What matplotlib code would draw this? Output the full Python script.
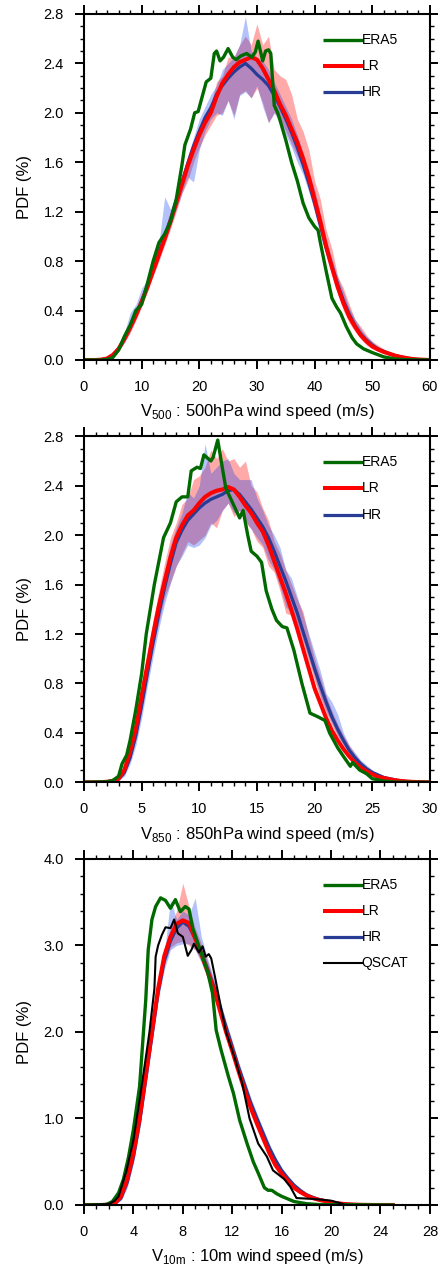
import numpy as np
import matplotlib
matplotlib.use('Agg')
import matplotlib.pyplot as plt
from matplotlib.ticker import MultipleLocator, FormatStrFormatter

plt.rcParams['font.family'] = ['Liberation Sans', 'DejaVu Sans']
plt.rcParams['mathtext.fontset'] = 'custom'
plt.rcParams['mathtext.rm'] = 'Liberation Sans'

# ---- panel 1: 500 hPa (1 m/s bins) ----
X1 = np.arange(0, 61, 1.0)
LR1 = [0, 0, 0, .003, .012, .04, .09, .17, .26, .36,
       .47, .59, .72, .85, .98, 1.12, 1.27, 1.42, 1.57, 1.70,
       1.82, 1.92, 2.00, 2.13, 2.24, 2.31, 2.37, 2.41, 2.43, 2.45,
       2.43, 2.36, 2.27, 2.18, 2.07, 1.98, 1.87, 1.76, 1.63, 1.48,
       1.30, 1.12, 0.92, 0.75, 0.59, 0.46, 0.35, 0.27, 0.20, 0.15,
       0.11, 0.085, 0.065, 0.05, 0.035, 0.024, 0.015, 0.008, 0.004, 0.002,
       0]
HR1 = [0, 0, 0, .003, .012, .04, .09, .17, .27, .37,
       .48, .60, .74, .87, 1.00, 1.14, 1.29, 1.44, 1.59, 1.73,
       1.85, 1.96, 2.04, 2.15, 2.22, 2.28, 2.33, 2.37, 2.40, 2.36,
       2.31, 2.27, 2.22, 2.14, 2.05, 1.95, 1.84, 1.72, 1.58, 1.43,
       1.27, 1.09, 0.91, 0.76, 0.61, 0.48, 0.37, 0.28, 0.21, 0.16,
       0.12, 0.09, 0.07, 0.05, 0.035, 0.025, 0.015, 0.008, 0.004, 0.002,
       0]
LR1_hi = [0, 0, 0, .005, .02, .05, .11, .20, .30, .40,
          .52, .65, .85, .92, 1.05, 1.20, 1.35, 1.50, 1.65, 1.78,
          1.90, 2.00, 2.07, 2.25, 2.30, 2.45, 2.45, 2.55, 2.62, 2.55,
          2.72, 2.55, 2.62, 2.35, 2.30, 2.27, 2.15, 1.95, 1.85, 1.70,
          1.45, 1.30, 1.05, 0.90, 0.68, 0.58, 0.45, 0.33, 0.27, 0.20,
          0.15, 0.12, 0.09, 0.07, 0.05, 0.035, 0.02, 0.012, 0.006, 0.003,
          0]
LR1_lo = [0, 0, 0, 0, .005, .03, .07, .14, .22, .32,
          .43, .55, .68, .80, .93, 1.06, 1.20, 1.35, 1.45, 1.60,
          1.72, 1.82, 1.90, 1.98, 2.00, 2.10, 1.98, 2.15, 2.18, 2.12,
          2.20, 2.08, 1.92, 2.00, 1.95, 1.85, 1.75, 1.65, 1.55, 1.40,
          1.20, 1.05, 0.85, 0.68, 0.53, 0.40, 0.30, 0.23, 0.17, 0.12,
          0.09, 0.07, 0.05, 0.04, 0.025, 0.015, 0.01, 0.005, 0.002, 0.001,
          0]
HR1_hi = [0, 0, 0, .005, .02, .06, .12, .22, .38, .45,
          .58, .65, .78, .95, 1.32, 1.22, 1.35, 1.50, 1.65, 1.80,
          1.95, 2.05, 2.15, 2.22, 2.35, 2.40, 2.45, 2.55, 2.78, 2.50,
          2.45, 2.42, 2.35, 2.25, 2.15, 2.05, 1.95, 1.82, 1.68, 1.52,
          1.38, 1.18, 0.98, 0.82, 0.67, 0.55, 0.42, 0.33, 0.25, 0.19,
          0.15, 0.10, 0.08, 0.06, 0.04, 0.03, 0.02, 0.01, 0.005, 0.002,
          0]
HR1_lo = [0, 0, 0, 0, .005, .03, .07, .14, .23, .33,
          .44, .56, .69, .82, .95, 1.08, 1.22, 1.35, 1.48, 1.44,
          1.70, 1.85, 1.95, 2.00, 1.98, 2.10, 1.95, 2.14, 2.17, 2.12,
          2.22, 2.05, 1.92, 2.00, 1.92, 1.82, 1.72, 1.60, 1.50, 1.36,
          1.20, 1.00, 0.84, 0.70, 0.55, 0.43, 0.33, 0.25, 0.19, 0.14,
          0.10, 0.08, 0.06, 0.04, 0.03, 0.02, 0.01, 0.005, 0.002, 0.001,
          0]
ERA1_x = [0, 3, 4, 5, 6, 7, 8, 9, 10, 11, 12, 13, 14, 15, 16, 17, 17.5, 18.5,
          19.2, 19.8, 20.5, 21.2, 22, 22.6, 23, 23.6, 24.2, 25, 25.8, 26.4,
          27.2, 28.2, 29.1, 29.7, 30.2, 31.0, 31.5, 32.0, 32.4, 33.0, 33.6,
          34.0, 35, 36, 37, 38, 39, 40, 40.6, 41, 42, 43, 43.8, 44.5, 45.5,
          46.5, 47.3, 48.5, 50, 52, 54, 56, 60]
ERA1 = [0, 0, .005, .02, .08, .19, .28, .40, .45, .62, .80, .95, 1.02, 1.12,
        1.30, 1.58, 1.74, 1.87, 2.0, 2.01, 2.13, 2.25, 2.28, 2.48, 2.50, 2.42,
        2.45, 2.52, 2.45, 2.43, 2.46, 2.48, 2.45, 2.49, 2.58, 2.42, 2.50,
        2.51, 2.48, 2.06, 2.00, 1.94, 1.78, 1.60, 1.45, 1.27, 1.15, 1.08,
        1.05, 0.95, 0.72, 0.50, 0.43, 0.38, 0.27, 0.18, 0.13, 0.09, 0.06,
        0.025, 0.008, 0.002, 0]

# ---- panel 2: 850 hPa (0.5 m/s bins) ----
X2 = np.arange(0, 30.25, 0.5)
LR2 = [0, 0, 0, .002, .005, .012, .03, .10, .25, .44,
       .70, .95, 1.20, 1.43, 1.63, 1.82, 1.98, 2.08, 2.16, 2.20,
       2.26, 2.31, 2.34, 2.36, 2.37, 2.39, 2.37, 2.31, 2.24, 2.18,
       2.10, 2.03, 1.92, 1.79, 1.66, 1.53, 1.39, 1.24, 1.08, 0.92,
       0.76, 0.64, 0.52, 0.42, 0.34, 0.27, 0.21, 0.16, 0.12, 0.09,
       .065, .045, .035, .025, .017, .011, .007, .004, .002, .001,
       0]
HR2 = [0, 0, 0, .001, .004, .01, .025, .08, .20, .38,
       .62, .88, 1.13, 1.37, 1.58, 1.77, 1.94, 2.04, 2.12, 2.17,
       2.22, 2.26, 2.29, 2.31, 2.33, 2.36, 2.37, 2.33, 2.27, 2.21,
       2.14, 2.07, 1.98, 1.87, 1.75, 1.63, 1.50, 1.37, 1.22, 1.07,
       0.92, 0.78, 0.65, 0.53, 0.43, 0.34, 0.26, 0.20, 0.15, 0.11,
       .08, .06, .04, .03, .02, .012, .007, .004, .002, .001,
       0]
LR2_hi = [0, 0, 0, .003, .008, .02, .05, .15, .32, .52,
          .80, 1.05, 1.32, 1.55, 1.78, 1.98, 2.10, 2.25, 2.30, 2.45,
          2.48, 2.55, 2.69, 2.62, 2.70, 2.60, 2.62, 2.55, 2.60, 2.40,
          2.35, 2.22, 2.12, 1.95, 1.85, 1.72, 1.60, 1.48, 1.38, 1.18,
          1.00, 0.85, 0.70, 0.58, 0.47, 0.38, 0.30, 0.23, 0.17, 0.13,
          .10, .07, .05, .04, .03, .02, .012, .007, .004, .002,
          0]
LR2_lo = [0, 0, 0, .001, .003, .008, .02, .06, .18, .35,
          .60, .85, 1.10, 1.30, 1.50, 1.62, 1.75, 1.85, 1.95, 1.92,
          1.96, 2.00, 2.10, 2.06, 2.20, 2.26, 2.15, 2.20, 2.10, 2.05,
          1.95, 1.90, 1.75, 1.70, 1.55, 1.37, 1.35, 1.25, 1.12, 0.98,
          0.82, 0.68, 0.56, 0.46, 0.37, 0.30, 0.23, 0.17, 0.13, 0.09,
          .07, .05, .035, .025, .015, .01, .006, .003, .002, .001,
          0]
HR2_hi = [0, 0, 0, .003, .008, .02, .05, .14, .30, .50,
          .76, 1.02, 1.30, 1.52, 1.72, 1.92, 2.06, 2.18, 2.35, 2.30,
          2.40, 2.74, 2.50, 2.55, 2.60, 2.62, 2.50, 2.45, 2.45, 2.45,
          2.30, 2.20, 2.08, 2.00, 1.90, 1.72, 1.65, 1.50, 1.35, 1.20,
          1.05, 0.90, 0.72, 0.65, 0.55, 0.40, 0.30, 0.24, 0.18, 0.14,
          .10, .075, .055, .04, .028, .018, .011, .006, .003, .0015,
          0]
HR2_lo = [0, 0, 0, 0, .002, .006, .015, .05, .15, .30,
          .52, .78, 1.02, 1.25, 1.45, 1.61, 1.75, 1.83, 1.92, 1.90,
          1.92, 1.98, 2.08, 2.12, 2.20, 2.26, 2.18, 2.20, 2.12, 2.05,
          1.98, 1.92, 1.80, 1.72, 1.58, 1.42, 1.38, 1.28, 1.15, 1.00,
          0.85, 0.70, 0.58, 0.48, 0.38, 0.30, 0.23, 0.17, 0.13, 0.09,
          .07, .05, .035, .025, .015, .01, .006, .003, .002, .001,
          0]
ERA2_x = [0, 2, 2.5, 3, 3.3, 3.7, 4, 4.5, 5, 5.4, 6.1, 6.9, 7.5, 8.0, 8.5,
          9.0, 9.3, 9.8, 10.1, 10.4, 11.0, 11.2, 11.6, 11.9, 12.3, 12.7,
          13.2, 13.5, 13.8, 14.2, 14.5, 15.0, 15.4, 15.8, 16.3, 16.7, 17.2,
          17.6, 18.2, 18.9, 19.6, 20.3, 20.9, 21.3, 22.0, 22.5, 23.1, 23.3,
          23.9, 24.5, 25, 26, 27, 30]
ERA2 = [0, .005, .015, .05, .15, .22, .34, .59, .88, 1.20, 1.60, 1.98, 2.10,
        2.27, 2.31, 2.31, 2.52, 2.55, 2.54, 2.65, 2.60, 2.63, 2.77, 2.60,
        2.38, 2.30, 2.20, 2.14, 2.20, 2.00, 1.87, 1.83, 1.78, 1.55, 1.40,
        1.31, 1.26, 1.25, 1.07, 0.80, 0.56, 0.53, 0.50, 0.40, 0.28, 0.21,
        0.13, 0.16, 0.10, 0.07, 0.03, 0.01, 0.002, 0]

# ---- panel 3: 10 m (0.5 m/s bins) ----
X3 = np.arange(0, 25.25, 0.5)
LR3 = [0, 0, 0, 0, .005, .02, .10, .30, .60, 1.00,
       1.50, 2.00, 2.50, 2.88, 3.10, 3.25, 3.29, 3.26, 3.08, 2.90,
       2.70, 2.50, 2.25, 2.00, 1.78, 1.55, 1.33, 1.12, 0.94, 0.77,
       0.60, 0.46, 0.36, 0.28, 0.20, 0.15, 0.11, 0.08, 0.06, 0.045,
       0.03, 0.02, 0.012, 0.007, 0.004, 0.002, 0.001, 0, 0, 0,
       0]
HR3 = [0, 0, 0, 0, .004, .015, .08, .26, .55, .95,
       1.45, 1.95, 2.45, 2.82, 3.05, 3.20, 3.27, 3.22, 3.08, 2.92,
       2.73, 2.53, 2.30, 2.06, 1.83, 1.60, 1.39, 1.18, 1.00, 0.83,
       0.66, 0.52, 0.40, 0.31, 0.23, 0.17, 0.12, 0.09, 0.065, 0.05,
       0.035, 0.022, 0.014, 0.008, 0.004, 0.002, 0.001, 0, 0, 0,
       0]
LR3_hi = [0, 0, 0, 0, .007, .03, .13, .35, .66, 1.06,
          1.57, 2.08, 2.58, 2.97, 3.20, 3.40, 3.72, 3.45, 3.20, 3.02,
          2.82, 2.60, 2.33, 2.07, 1.84, 1.60, 1.38, 1.16, 0.98, 0.80,
          0.63, 0.49, 0.38, 0.30, 0.22, 0.16, 0.12, 0.09, 0.065, 0.048,
          0.033, 0.022, 0.013, 0.008, 0.004, 0.002, 0.001, 0, 0, 0,
          0]
LR3_lo = [0, 0, 0, 0, .003, .012, .07, .25, .54, .93,
          1.43, 1.92, 2.42, 2.78, 2.98, 3.03, 3.05, 3.00, 2.95, 2.82,
          2.62, 2.42, 2.18, 1.95, 1.73, 1.50, 1.29, 1.08, 0.90, 0.74,
          0.57, 0.44, 0.34, 0.26, 0.18, 0.14, 0.10, 0.07, 0.055, 0.042,
          0.028, 0.018, 0.011, 0.006, 0.003, 0.0015, 0.0005, 0, 0, 0,
          0]
HR3_hi = [0, 0, 0, 0, .006, .025, .11, .31, .60, 1.00,
          1.52, 2.02, 2.52, 2.90, 3.53, 3.30, 3.40, 3.35, 3.55, 3.10,
          2.85, 2.62, 2.38, 2.12, 1.90, 1.66, 1.45, 1.24, 1.06, 0.88,
          0.71, 0.56, 0.43, 0.33, 0.25, 0.18, 0.13, 0.095, 0.07, 0.052,
          0.037, 0.024, 0.015, 0.009, 0.005, 0.002, 0.001, 0, 0, 0,
          0]
HR3_lo = [0, 0, 0, 0, .002, .008, .05, .20, .48, .88,
          1.37, 1.87, 2.37, 2.72, 2.95, 3.00, 3.02, 3.02, 2.95, 2.80,
          2.62, 2.44, 2.22, 1.99, 1.76, 1.54, 1.33, 1.12, 0.94, 0.78,
          0.61, 0.48, 0.37, 0.28, 0.21, 0.15, 0.11, 0.08, 0.06, 0.045,
          0.03, 0.02, 0.012, 0.007, 0.003, 0.0015, 0.0005, 0, 0, 0,
          0]
ERA3_x = [0, 1.8, 2.3, 2.8, 3.2, 3.6, 4.0, 4.5, 5.0, 5.2, 5.5, 5.8, 6.2, 6.6,
          7.0, 7.4, 7.8, 8.2, 8.5, 8.8, 9.4, 10.0, 10.4, 10.7, 11.1, 11.7,
          12.1, 12.6, 13.2, 13.7, 14.1, 14.6, 14.9, 15.2, 15.6, 16.0, 17.0,
          18.0, 19, 25]
ERA3 = [0, .005, .04, .14, .30, .55, .87, 1.37, 2.37, 2.95, 3.30, 3.45, 3.55,
        3.52, 3.43, 3.53, 3.39, 3.45, 3.42, 3.20, 2.95, 2.70, 2.45, 2.02,
        1.79, 1.48, 1.29, 0.98, 0.71, 0.50, 0.37, 0.20, 0.17, 0.17, 0.13,
        0.10, 0.04, 0.015, 0.005, 0]
QSCAT_x = [0, 2, 2.5, 2.8, 3.45, 4, 4.5, 5.0, 5.3, 5.7, 5.8, 6.0, 6.3, 6.6,
           7.0, 7.3, 7.6, 8.0, 8.4, 8.7, 8.9, 9.3, 9.6, 9.85, 10.1, 10.3,
           10.6, 11.1, 11.5, 12.2, 12.8, 13.4, 14.1, 14.8, 15.3, 16.2, 16.7,
           17.2, 18.5, 19.3, 20, 21]
QSCAT = [0, .01, .05, .10, .40, .75, 1.21, 1.70, 2.00, 2.50, 2.87, 3.00, 3.12,
         3.21, 3.20, 3.30, 3.14, 3.10, 2.88, 2.95, 3.02, 2.92, 2.99, 2.87,
         2.90, 2.85, 2.64, 2.27, 2.00, 1.70, 1.41, 1.00, 0.71, 0.56, 0.40,
         0.30, 0.21, 0.08, 0.07, 0.06, 0.05, 0.01]

_GREEN, _RED, _BLUE = '#006a00', '#ff0000', '#283c96'


def _style(ax, xmax, xmaj, xmin, ymax, ymaj, ymin):
    ax.set_xlim(0, xmax)
    ax.set_ylim(0, ymax)
    ax.xaxis.set_major_locator(MultipleLocator(xmaj))
    ax.xaxis.set_minor_locator(MultipleLocator(xmin))
    ax.yaxis.set_major_locator(MultipleLocator(ymaj))
    ax.yaxis.set_minor_locator(MultipleLocator(ymin))
    ax.yaxis.set_major_formatter(FormatStrFormatter('%.1f'))
    ax.tick_params(which='both', direction='out', top=True, right=True,
                   labelsize=10.5, width=1.4, pad=8)
    ax.tick_params(which='major', length=6.5)
    ax.tick_params(which='minor', length=3.2, width=1.0)
    for sp in ax.spines.values():
        sp.set_linewidth(1.5)
    ax.set_ylabel('PDF (%)', fontsize=12, labelpad=8)


def _legend(ax, entries):
    ys = [0.926, 0.850, 0.774, 0.700]
    for (lab, col, lw), y in zip(entries, ys):
        ax.plot([0.69, 0.806], [y, y], color=col, lw=lw,
                transform=ax.transAxes, clip_on=False, solid_capstyle='butt')
        ax.text(0.803, y, lab, transform=ax.transAxes, fontsize=10,
                va='center', ha='left')


def _panel(ax, x, lr, hr, lr_lo, lr_hi, hr_lo, hr_hi, ex, ey):
    ax.fill_between(x, lr_lo, lr_hi, color='#ff5555', alpha=0.5, lw=0)
    ax.fill_between(x, hr_lo, hr_hi, color='#0537ee', alpha=0.3, lw=0)
    ax.plot(x, hr, color=_BLUE, lw=2.3)
    ax.plot(x, lr, color=_RED, lw=2.9)
    ax.plot(ex, ey, color=_GREEN, lw=2.4)


fig = plt.figure(figsize=(4.39, 12.68), dpi=100)
L, W, H = 0.1913, 0.788, 0.2729
ax1 = fig.add_axes([L, 0.7161, W, H])
ax2 = fig.add_axes([L, 0.3830, W, H])
ax3 = fig.add_axes([L, 0.0497, W, H])

base = [('ERA5', _GREEN, 2.4), ('LR', _RED, 2.9), ('HR', _BLUE, 2.3)]

_panel(ax1, X1, LR1, HR1, LR1_lo, LR1_hi, HR1_lo, HR1_hi, ERA1_x, ERA1)
_style(ax1, 60, 10, 2, 2.8, 0.4, 0.1)
ax1.set_xlabel(r'V$_{\mathrm{500}}$ : 500hPa wind speed (m/s)', fontsize=12, labelpad=6)
_legend(ax1, base)

_panel(ax2, X2, LR2, HR2, LR2_lo, LR2_hi, HR2_lo, HR2_hi, ERA2_x, ERA2)
_style(ax2, 30, 5, 1, 2.8, 0.4, 0.1)
ax2.set_xlabel(r'V$_{\mathrm{850}}$ : 850hPa wind speed (m/s)', fontsize=12, labelpad=6)
_legend(ax2, base)

_panel(ax3, X3, LR3, HR3, LR3_lo, LR3_hi, HR3_lo, HR3_hi, ERA3_x, ERA3)
ax3.plot(QSCAT_x, QSCAT, color='black', lw=1.5)
_style(ax3, 28, 4, 1, 4.0, 1.0, 0.2)
ax3.set_xlabel(r'V$_{\mathrm{10m}}$ : 10m wind speed (m/s)', fontsize=12, labelpad=6)
_legend(ax3, base + [('QSCAT', 'black', 1.5)])

fig.savefig('out.png', dpi=100)
